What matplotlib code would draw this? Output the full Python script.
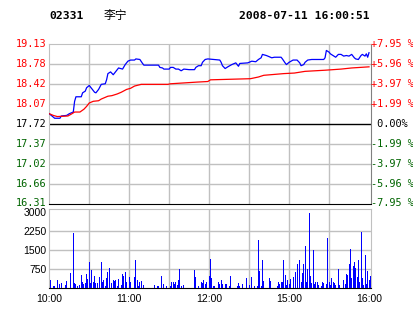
import matplotlib
matplotlib.use("Agg")
import matplotlib.pyplot as plt
import numpy as np

# header
stock_code = "02331"
stock_name = "李宁"
timestamp = "2008-07-11 16:00:51"
prev_close = 17.72
pct_limit = 7.95

price_labels = ["19.13", "18.78", "18.42", "18.07", "17.72", "17.37", "17.02", "16.66", "16.31"]
pct_labels = ["+7.95 %", "+5.96 %", "+3.97 %", "+1.99 %", " 0.00%",
              "-1.99 %", "-3.97 %", "-5.96 %", "-7.95 %"]

# trading minutes since 10:00 (12:30-14:30 lunch break removed)
time_ticks = [0, 60, 120, 180, 240]
time_labels = ["10:00", "11:00", "12:00", "15:00", "16:00"]

price_min = [0, 4, 8, 9, 13, 15, 18, 19, 20, 24, 25, 27, 28, 30, 32, 34, 35, 37, 39, 42,
             43, 44, 46, 48, 50, 52, 55, 57, 59, 61, 64, 65, 68, 70, 71, 82, 83, 85, 86, 90,
             91, 93, 95, 97, 99, 101, 105, 109, 110, 112, 114, 115, 117, 119, 128, 129, 130,
             132, 134, 137, 140, 142, 143, 149, 152, 155, 157, 159, 160, 163, 167, 169, 174,
             175, 177, 178, 179, 180, 183, 186, 188, 189, 191, 192, 194, 197, 206, 207, 208,
             210, 211, 213, 215, 217, 219, 221, 223, 225, 227, 229, 230, 232, 234, 235, 237,
             238, 239, 240]
price = [17.90, 17.82, 17.82, 17.86, 17.87, 17.90, 17.93, 18.12, 18.20, 18.20, 18.27, 18.30,
         18.36, 18.40, 18.34, 18.28, 18.27, 18.33, 18.42, 18.43, 18.50, 18.61, 18.64, 18.59,
         18.65, 18.71, 18.69, 18.77, 18.83, 18.85, 18.85, 18.87, 18.86, 18.79, 18.76, 18.76,
         18.72, 18.71, 18.69, 18.69, 18.72, 18.72, 18.69, 18.69, 18.66, 18.69, 18.68, 18.68,
         18.72, 18.75, 18.75, 18.81, 18.86, 18.87, 18.85, 18.81, 18.75, 18.70, 18.73, 18.77,
         18.80, 18.74, 18.79, 18.80, 18.83, 18.82, 18.86, 18.89, 18.95, 18.93, 18.89, 18.90,
         18.90, 18.87, 18.80, 18.77, 18.79, 18.81, 18.85, 18.85, 18.80, 18.75, 18.77, 18.81,
         18.85, 18.86, 18.86, 18.89, 19.02, 18.99, 18.96, 18.93, 18.90, 18.95, 18.95, 18.92,
         18.93, 18.92, 18.95, 18.89, 18.87, 18.86, 18.93, 18.95, 18.92, 18.96, 18.90, 18.98]

avg_min = [0, 3, 6, 14, 17, 19, 23, 26, 28, 30, 33, 37, 39, 44, 47, 51, 54, 58, 61, 64, 69,
           89, 91, 111, 119, 121, 151, 157, 161, 176, 184, 192, 207, 219, 227, 240]
avg_price = [17.90, 17.87, 17.85, 17.86, 17.90, 17.93, 17.93, 17.98, 18.03, 18.09, 18.12,
             18.13, 18.16, 18.21, 18.22, 18.25, 18.28, 18.33, 18.35, 18.39, 18.42, 18.42,
             18.43, 18.46, 18.47, 18.50, 18.52, 18.55, 18.58, 18.61, 18.62, 18.65, 18.67,
             18.69, 18.71, 18.73]

vol_min = [1, 3, 4, 6, 8, 9, 12, 13, 16, 18, 19, 20, 21, 23, 24, 25, 26, 27, 28, 29, 30, 31,
           32, 33, 34, 35, 36, 38, 39, 40, 41, 42, 43, 44, 45, 47, 48, 49, 50, 51, 52, 54, 55,
           56, 57, 58, 60, 61, 64, 65, 66, 67, 68, 69, 71, 79, 81, 82, 84, 86, 88, 91, 92, 93,
           94, 95, 96, 97, 98, 99, 101, 109, 110, 112, 114, 115, 116, 117, 118, 120, 121, 122,
           123, 124, 127, 128, 129, 130, 132, 133, 135, 136, 141, 142, 143, 145, 148, 150, 152,
           154, 156, 157, 158, 159, 160, 161, 165, 166, 171, 172, 173, 174, 175, 176, 177, 178,
           179, 180, 181, 183, 185, 186, 188, 189, 190, 191, 192, 193, 194, 195, 196, 197, 198,
           199, 200, 201, 202, 204, 205, 206, 208, 209, 210, 211, 212, 213, 214, 215, 217, 218,
           221, 222, 223, 224, 225, 226, 227, 228, 229, 230, 231, 232, 233, 234, 235, 236, 237,
           238, 239, 240, 241]
volume = [323, 90, 90, 323, 170, 190, 115, 280, 600, 2160, 190, 170, 90, 130, 520, 250, 170,
          190, 555, 375, 1020, 210, 710, 260, 480, 210, 190, 450, 1020, 260, 320, 90, 400, 650,
          815, 190, 320, 300, 320, 90, 360, 130, 555, 480, 630, 240, 450, 260, 450, 1125, 320,
          90, 260, 280, 115, 115, 90, 90, 480, 170, 90, 90, 240, 240, 170, 260, 115, 320, 740,
          90, 115, 710, 430, 90, 250, 210, 320, 170, 260, 480, 1165, 400, 90, 90, 240, 170, 320,
          170, 170, 170, 90, 480, 90, 190, 90, 170, 400, 115, 450, 90, 90, 1900, 690, 90, 1100,
          300, 400, 300, 90, 240, 170, 260, 260, 1100, 520, 115, 340, 150, 360, 430, 630, 970,
          1100, 260, 600, 945, 1645, 260, 740, 2965, 480, 190, 1515, 170, 260, 260, 115, 90,
          260, 210, 170, 1955, 260, 115, 400, 240, 190, 115, 740, 115, 320, 170, 555, 520, 970,
          1540, 400, 865, 1020, 790, 430, 1100, 260, 2190, 400, 115, 1305, 170, 670, 320, 500]
vol_ticks = [750, 1500, 2250, 3000]

RED = "#ff0000"
GREEN = "#006400"
GRID = "#c0c0c0"
MONO = "DejaVu Sans Mono"

fig = plt.figure(figsize=(4.14, 3.14), dpi=100)
fig.patch.set_facecolor("white")

x0, x1 = 49.3 / 414, 371 / 414
ax = fig.add_axes([x0, 1 - 203.5 / 314, x1 - x0, (203.5 - 44.3) / 314])
axv = fig.add_axes([x0, 1 - 288.3 / 314, x1 - x0, (288.3 - 209.3) / 314])

xmax = 241.5
lo = prev_close * (1 - pct_limit / 100)
hi = prev_close * (1 + pct_limit / 100)
levels = np.linspace(hi, lo, 9)

# price panel
ax.set_xlim(0, xmax)
ax.set_ylim(lo, hi)
for lv in levels[1:-1]:
    if abs(lv - prev_close) < 1e-6:
        ax.axhline(lv, color="black", lw=1.0, zorder=2)
    else:
        ax.axhline(lv, color=GRID, lw=1.0, zorder=1)
for m in range(30, 240, 30):
    ax.axvline(m, color=GRID, lw=1.0, zorder=1)
ax.plot(price_min, price, color="#0000ff", lw=0.9, zorder=3)
ax.plot(avg_min, avg_price, color=RED, lw=0.9, zorder=3)
for side in ["top", "left"]:
    ax.spines[side].set_color(GRID)
ax.spines["right"].set_color("#808080")
ax.spines["bottom"].set_color("black")
ax.set_xticks([])
ax.set_yticks([])

for lv, plab, pcl in zip(levels, price_labels, pct_labels):
    if lv > prev_close + 1e-6:
        col = RED
    elif lv < prev_close - 1e-6:
        col = GREEN
    else:
        col = "black"
    ax.annotate(plab, xy=(0, lv), xycoords=("axes fraction", "data"),
                xytext=(-1.8, 0), textcoords="offset points", ha="right", va="center",
                fontsize=7.4, family=MONO, color=col)
    ax.annotate(pcl, xy=(1, lv), xycoords=("axes fraction", "data"),
                xytext=(0.3, 0), textcoords="offset points", ha="left", va="center",
                fontsize=7.4, family=MONO, color=col)

# volume panel
axv.set_xlim(0, xmax)
axv.set_ylim(0, 3100)
for v in vol_ticks[:-1]:
    axv.axhline(v, color=GRID, lw=1.0, zorder=1)
for m in range(30, 240, 30):
    axv.axvline(m, color=GRID, lw=1.0, zorder=1)
axv.bar(vol_min, volume, width=0.75, color="#0000ff", zorder=3)
for side in ["top", "left", "right"]:
    axv.spines[side].set_color(GRID)
axv.spines["bottom"].set_color("black")
axv.set_yticks(vol_ticks)
axv.set_yticklabels([str(v) for v in vol_ticks], family="Liberation Sans", fontsize=7.5)
axv.set_xticks(time_ticks)
axv.set_xticklabels(time_labels, family="Liberation Sans", fontsize=7.5)
axv.tick_params(length=0, pad=2)
axv.tick_params(axis="x", pad=4)

# header
fig.text(49 / 414, 1 - 16 / 314, stock_code, ha="left", va="center",
         fontsize=8.2, family=MONO, weight="bold")
fig.text(104 / 414, 1 - 16 / 314, stock_name, ha="left", va="center",
         fontsize=8.5, family=["Noto Sans CJK SC", "DejaVu Sans"])
fig.text(370 / 414, 1 - 16 / 314, timestamp, ha="right", va="center",
         fontsize=8.2, family=MONO, weight="bold")

plt.savefig("out.png", dpi=100)
plt.close()
